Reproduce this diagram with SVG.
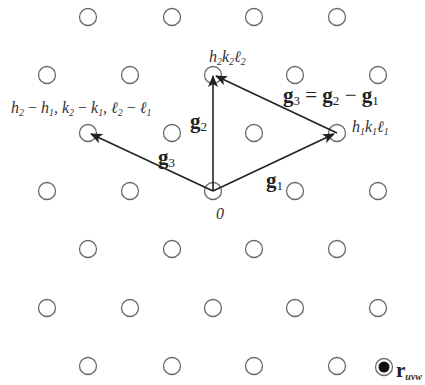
<svg xmlns="http://www.w3.org/2000/svg" width="425" height="385" viewBox="0 0 425 385">
<style>
.pt{fill:none;stroke:#6a6a6a;stroke-width:1.3}
.ar{stroke:#222;stroke-width:1.6;fill:none;marker-end:url(#ah)}
.it{font-family:"Liberation Serif","Times New Roman","DejaVu Serif",serif;font-style:italic;font-size:16px;fill:#333}
.bd{font-family:"Liberation Serif","Times New Roman","DejaVu Serif",serif;font-weight:bold;font-size:21px;fill:#222}
.sb{font-size:62%}
.rm{font-style:normal;font-weight:normal}
</style>
<defs>
<marker id="ah" viewBox="0 0 12 10" refX="11" refY="5" markerWidth="12" markerHeight="10" markerUnits="userSpaceOnUse" orient="auto">
<path d="M0,0 L12,5 L0,10 L3,5 z" fill="#222"/>
</marker>
</defs>
<g id="lattice">
<circle class="pt" cx="88" cy="17" r="8.5"/><circle class="pt" cx="172" cy="17" r="8.5"/><circle class="pt" cx="254" cy="17" r="8.5"/><circle class="pt" cx="337" cy="17" r="8.5"/>
<circle class="pt" cx="47" cy="75" r="8.5"/><circle class="pt" cx="130" cy="75" r="8.5"/><circle class="pt" cx="213" cy="75" r="8.5"/><circle class="pt" cx="295" cy="75" r="8.5"/><circle class="pt" cx="378" cy="75" r="8.5"/>
<circle class="pt" cx="88" cy="133" r="8.5"/><circle class="pt" cx="172" cy="133" r="8.5"/><circle class="pt" cx="254" cy="133" r="8.5"/><circle class="pt" cx="337" cy="133" r="8.5"/>
<circle class="pt" cx="47" cy="191" r="8.5"/><circle class="pt" cx="130" cy="191" r="8.5"/><circle class="pt" cx="213" cy="191" r="8.5"/><circle class="pt" cx="295" cy="191" r="8.5"/><circle class="pt" cx="378" cy="191" r="8.5"/>
<circle class="pt" cx="88" cy="249" r="8.5"/><circle class="pt" cx="172" cy="249" r="8.5"/><circle class="pt" cx="254" cy="249" r="8.5"/><circle class="pt" cx="337" cy="249" r="8.5"/>
<circle class="pt" cx="47" cy="308" r="8.5"/><circle class="pt" cx="130" cy="308" r="8.5"/><circle class="pt" cx="213" cy="308" r="8.5"/><circle class="pt" cx="295" cy="308" r="8.5"/><circle class="pt" cx="378" cy="308" r="8.5"/>
<circle class="pt" cx="88" cy="366" r="8.5"/><circle class="pt" cx="172" cy="366" r="8.5"/><circle class="pt" cx="254" cy="366" r="8.5"/><circle class="pt" cx="337" cy="366" r="8.5"/>
</g>
<g id="ruvw">
<circle class="pt" cx="384" cy="367" r="8.5"/>
<circle cx="384" cy="367" r="5.5" fill="#111"/>
<text class="bd" x="396" y="377" style="font-size:21px">r<tspan class="it" style="font-size:10px" dy="3">uvw</tspan></text>
</g>
<g id="connectors">
<line class="ar" x1="213" y1="191" x2="334" y2="134"/>
<line class="ar" x1="213" y1="191" x2="213" y2="76"/>
<line class="ar" x1="337" y1="133" x2="216" y2="76"/>
<line class="ar" x1="213" y1="191" x2="91" y2="134"/>
</g>
<g id="labels">
<text class="bd" x="266" y="187">g<tspan class="sb rm" dy="3">1</tspan></text>
<text class="bd" x="190" y="128">g<tspan class="sb rm" dy="3">2</tspan></text>
<text class="bd" x="158" y="164">g<tspan class="sb rm" dy="3">3</tspan></text>
<text class="bd" x="283" y="102">g<tspan class="sb rm" dy="3">3</tspan><tspan dy="-3" class="rm"> = </tspan>g<tspan class="sb rm" dy="3">2</tspan><tspan dy="-3" class="rm"> − </tspan>g<tspan class="sb rm" dy="3">1</tspan></text>
<text class="it" x="209" y="62">h<tspan class="sb" dy="3">2</tspan><tspan dy="-3">k</tspan><tspan class="sb" dy="3">2</tspan><tspan dy="-3">ℓ</tspan><tspan class="sb" dy="3">2</tspan></text>
<text class="it" x="352" y="132">h<tspan class="sb" dy="3">1</tspan><tspan dy="-3">k</tspan><tspan class="sb" dy="3">1</tspan><tspan dy="-3">ℓ</tspan><tspan class="sb" dy="3">1</tspan></text>
<text class="it" x="11" y="113">h<tspan class="sb" dy="3">2</tspan><tspan dy="-3" class="rm"> − </tspan>h<tspan class="sb" dy="3">1</tspan><tspan dy="-3">, k</tspan><tspan class="sb" dy="3">2</tspan><tspan dy="-3" class="rm"> − </tspan>k<tspan class="sb" dy="3">1</tspan><tspan dy="-3">, ℓ</tspan><tspan class="sb" dy="3">2</tspan><tspan dy="-3" class="rm"> − </tspan>ℓ<tspan class="sb" dy="3">1</tspan></text>
<text class="it" x="216" y="219">0</text>
</g>
</svg>
